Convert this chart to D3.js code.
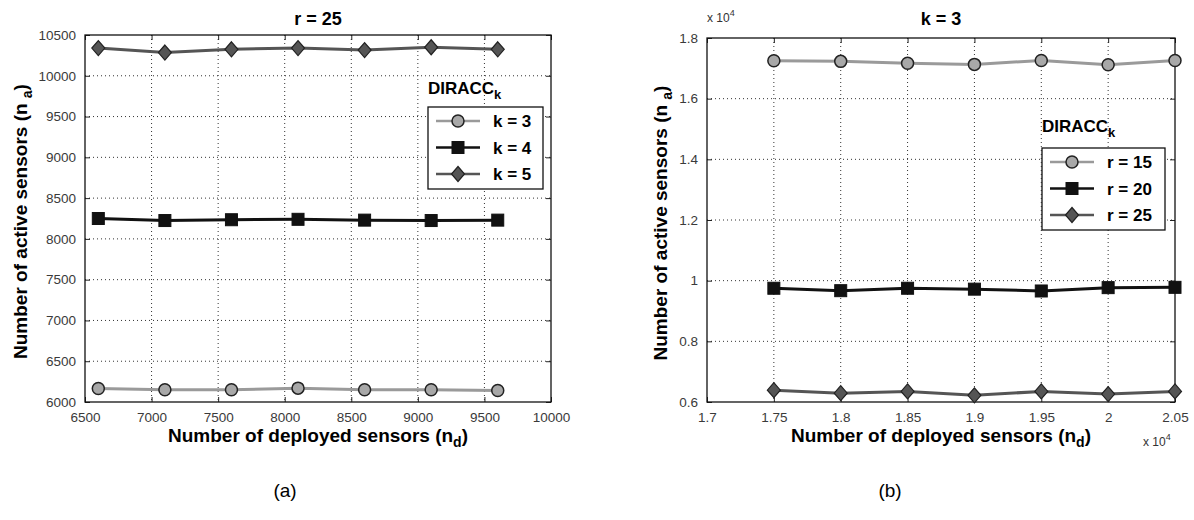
<!DOCTYPE html>
<html>
<head>
	<title>DIRACC active sensors</title>
	<script src="https://d3js.org/d3.v7.min.js"></script>
	<style>
		body { margin: 0; background: #fff; }
		text { font-family: Arial, "Liberation Sans", sans-serif; }
	</style>
</head>
<body>
	<script type="text/javascript">

		// panel (a): r = 25
		var deployedA = [6600, 7100, 7600, 8100, 8600, 9100, 9600];
		var k3 = [6165, 6150, 6150, 6170, 6150, 6150, 6140];
		var k4 = [8250, 8225, 8235, 8240, 8230, 8225, 8230];
		var k5 = [10340, 10285, 10325, 10340, 10315, 10350, 10325];
		var xTicksA = [6500, 7000, 7500, 8000, 8500, 9000, 9500, 10000];
		var yTicksA = [6000, 6500, 7000, 7500, 8000, 8500, 9000, 9500, 10000, 10500];

		// panel (b): k = 3
		var deployedB = [17500, 18000, 18500, 19000, 19500, 20000, 20500];
		var r15 = [17250, 17230, 17170, 17130, 17260, 17120, 17260];
		var r20 = [9750, 9670, 9750, 9720, 9660, 9770, 9780];
		var r25 = [6390, 6290, 6350, 6220, 6350, 6260, 6350];
		var xTicksB = [17000, 17500, 18000, 18500, 19000, 19500, 20000, 20500];
		var yTicksB = [6000, 8000, 10000, 12000, 14000, 16000, 18000];

		var width = 1194, height = 520;

		var svg = d3.select("body").append("svg")
			.attr("width", width)
			.attr("height", height);

		function marker(g, shape, x, y, fill) {
			if (shape == "circle") {
				g.append("circle").attr("cx", x).attr("cy", y).attr("r", 6)
					.attr("fill", fill).attr("stroke", "#222").attr("stroke-width", 1.5);
			} else if (shape == "square") {
				g.append("rect").attr("x", x - 6).attr("y", y - 6).attr("width", 12).attr("height", 12)
					.attr("fill", fill).attr("stroke", "#111").attr("stroke-width", 1);
			} else {
				g.append("path").attr("d", "M" + x + "," + (y - 7.5) + "L" + (x + 6.5) + "," + y + "L" + x + "," + (y + 7.5) + "L" + (x - 6.5) + "," + y + "Z")
					.attr("fill", fill).attr("stroke", "#222").attr("stroke-width", 1.2);
			}
		}

		function panel(p) {
			var x = d3.scaleLinear().domain(p.xDomain).range([p.left, p.right]);
			var y = d3.scaleLinear().domain(p.yDomain).range([p.bottom, p.top]);
			var g = svg.append("g");

			// dotted grid
			g.selectAll(".gx").data(p.xTicks.slice(1, -1)).enter().append("line")
				.attr("x1", d => x(d)).attr("x2", d => x(d))
				.attr("y1", p.top).attr("y2", p.bottom)
				.attr("stroke", "#333").attr("stroke-width", 1).attr("stroke-dasharray", "1,3");
			g.selectAll(".gy").data(p.yTicks.slice(1, -1)).enter().append("line")
				.attr("y1", d => y(d)).attr("y2", d => y(d))
				.attr("x1", p.left).attr("x2", p.right)
				.attr("stroke", "#333").attr("stroke-width", 1).attr("stroke-dasharray", "1,3");

			// axes with inward ticks
			var xAxis = d3.axisBottom(x).tickValues(p.xTicks).tickSizeInner(-5).tickSizeOuter(0).tickPadding(10).tickFormat(p.xFmt);
			var yAxis = d3.axisLeft(y).tickValues(p.yTicks).tickSizeInner(-5).tickSizeOuter(0).tickPadding(9).tickFormat(p.yFmt);
			var xa = g.append("g").attr("transform", "translate(0," + p.bottom + ")").call(xAxis);
			var ya = g.append("g").attr("transform", "translate(" + p.left + ",0)").call(yAxis);
			g.append("g").attr("transform", "translate(0," + p.top + ")")
				.call(d3.axisTop(x).tickValues(p.xTicks).tickSizeInner(-5).tickSizeOuter(0).tickFormat(""));
			g.append("g").attr("transform", "translate(" + p.right + ",0)")
				.call(d3.axisRight(y).tickValues(p.yTicks).tickSizeInner(-5).tickSizeOuter(0).tickFormat(""));
			g.selectAll(".domain").remove();
			g.selectAll(".tick line").attr("stroke", "#222");
			[xa, ya].forEach(function (a) {
				a.selectAll("text").attr("font-size", 13.5).attr("fill", "#3a3a3a").attr("font-family", "Arial, sans-serif");
			});

			g.append("rect").attr("x", p.left).attr("y", p.top)
				.attr("width", p.right - p.left).attr("height", p.bottom - p.top)
				.attr("fill", "none").attr("stroke", "#111").attr("stroke-width", 1.3);

			// series
			p.series.forEach(function (s) {
				var pts = p.xs.map((d, i) => [x(d), y(s.values[i])]);
				g.append("path").attr("d", d3.line()(pts))
					.attr("fill", "none").attr("stroke", s.line).attr("stroke-width", 3);
				pts.forEach(function (pt) { marker(g, s.shape, pt[0], pt[1], s.fill); });
			});

			// title and axis labels
			g.append("text").attr("x", (p.left + p.right) / 2).attr("y", 25)
				.attr("text-anchor", "middle").attr("font-size", 18).attr("font-weight", "bold").text(p.title);
			var xl = g.append("text").attr("x", (p.left + p.right) / 2).attr("y", 442)
				.attr("text-anchor", "middle").attr("font-size", 19).attr("font-weight", "bold")
				.text("Number of deployed sensors (n");
			xl.append("tspan").attr("font-size", 14).attr("dy", 5).text("d");
			xl.append("tspan").attr("dy", -5).text(")");
			var yl = g.append("text")
				.attr("transform", "translate(" + p.yLabelX + "," + ((p.top + p.bottom) / 2 + 3) + ") rotate(-90)")
				.attr("text-anchor", "middle").attr("font-size", 19).attr("font-weight", "bold")
				.text("Number of active sensors (n ");
			yl.append("tspan").attr("font-size", 14).attr("dy", 5).text("a");
			yl.append("tspan").attr("dy", -5).text(")");

			// legend
			var L = p.legend;
			var lt = g.append("text").attr("x", L.x).attr("y", L.y - L.titleGap)
				.attr("font-size", 17).attr("font-weight", "bold").text("DIRACC");
			lt.append("tspan").attr("font-size", 13).attr("dy", 5).text("k");
			g.append("rect").attr("x", L.x).attr("y", L.y).attr("width", L.w).attr("height", 82)
				.attr("fill", "#fff").attr("stroke", "#111").attr("stroke-width", 1.3);
			p.series.forEach(function (s, i) {
				var cy = L.y + 14 + i * 26.5;
				g.append("line").attr("x1", L.x + 8).attr("x2", L.x + 52).attr("y1", cy).attr("y2", cy)
					.attr("stroke", s.line).attr("stroke-width", 2.5);
				marker(g, s.shape, L.x + 30, cy, s.fill);
				g.append("text").attr("x", L.x + 65).attr("y", cy + 6)
					.attr("font-size", 17).attr("font-weight", "bold").text(s.name);
			});
			return { x: x, y: y };
		}

		panel({
			left: 85, right: 551, top: 35, bottom: 402,
			xDomain: [6500, 10000], yDomain: [6000, 10500],
			xTicks: xTicksA, yTicks: yTicksA,
			xFmt: d3.format("d"), yFmt: d3.format("d"),
			xs: deployedA, title: "r = 25", yLabelX: 27,
			legend: { x: 428, y: 107, w: 115, titleGap: 13 },
			series: [
				{ name: "k = 3", values: k3, shape: "circle", line: "#9a9a9a", fill: "#a8a8a8" },
				{ name: "k = 4", values: k4, shape: "square", line: "#111", fill: "#111" },
				{ name: "k = 5", values: k5, shape: "diamond", line: "#555", fill: "#555" }
			]
		});

		panel({
			left: 707, right: 1175, top: 38, bottom: 402,
			xDomain: [17000, 20500], yDomain: [6000, 18000],
			xTicks: xTicksB, yTicks: yTicksB,
			xFmt: d => d3.format("")(+(d / 10000).toFixed(2)),
			yFmt: d => d3.format("")(+(d / 10000).toFixed(1)),
			xs: deployedB, title: "k = 3", yLabelX: 667,
			legend: { x: 1042, y: 148, w: 123, titleGap: 16 },
			series: [
				{ name: "r = 15", values: r15, shape: "circle", line: "#9a9a9a", fill: "#a8a8a8" },
				{ name: "r = 20", values: r20, shape: "square", line: "#111", fill: "#111" },
				{ name: "r = 25", values: r25, shape: "diamond", line: "#555", fill: "#555" }
			]
		});

		// x 10^4 multipliers
		function mult(xp, yp) {
			var t = svg.append("text").attr("x", xp).attr("y", yp).attr("font-size", 12).attr("fill", "#333").text("x 10");
			t.append("tspan").attr("font-size", 9).attr("dy", -6).text("4");
		}
		mult(707, 22);
		mult(1143, 446);

		svg.append("text").attr("x", 285).attr("y", 497).attr("text-anchor", "middle").attr("font-size", 19).text("(a)");
		svg.append("text").attr("x", 890).attr("y", 497).attr("text-anchor", "middle").attr("font-size", 19).text("(b)");

	</script>
</body>
</html>
